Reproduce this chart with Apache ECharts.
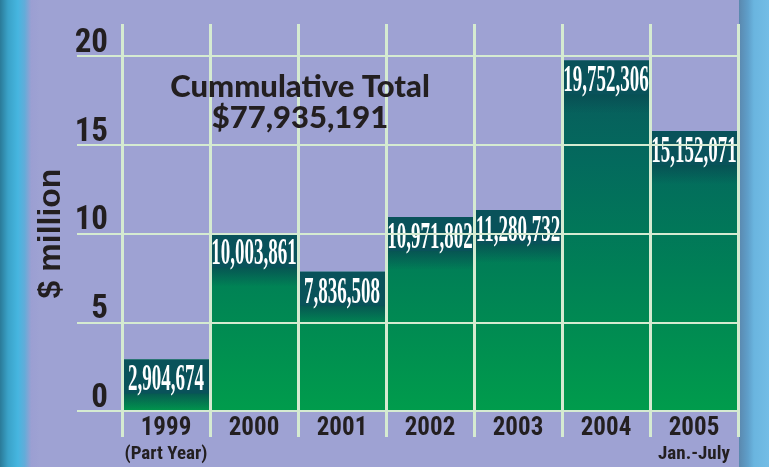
<!DOCTYPE html>
<html>
<head>
<meta charset="utf-8">
<script src="https://cdn.jsdelivr.net/npm/echarts@6/dist/echarts.min.js"></script>
<style>
html,body{margin:0;padding:0;background:#9ea2d3;}
#chart{width:769px;height:467px;}
</style>
</head>
<body>
<div id="chart"></div>
<script>
// Data
var years = ['1999', '2000', '2001', '2002', '2003', '2004', '2005'];
var yearNotes = ['(Part Year)', '', '', '', '', '', 'Jan.-July'];
var barValues = [2.90, 10.00, 7.84, 10.93, 11.33, 19.75, 15.77]; // $ million, bar heights as drawn
var valueLabels = ['2,904,674', '10,003,861', '7,836,508', '10,971,802', '11,280,732', '19,752,306', '15,152,071'];
var yTicks = [0, 5, 10, 15, 20];
var titleLines = ['Cummulative Total', '$77,935,191'];
var yName = '$ million';

var chart = echarts.init(document.getElementById('chart'), null, {renderer: 'canvas'});

var ink = '#231f20';
var gridLine = '#d5ebd1';
var narrow = '"Liberation Sans Narrow", "Roboto Condensed", "DejaVu Sans Condensed", "Liberation Sans", sans-serif';

var rich = {
  y: {fontFamily: narrow, fontWeight: 'bold', fontSize: 25, color: ink, lineHeight: 26},
  s: {fontFamily: narrow, fontWeight: 'bold', fontSize: 19, color: ink, lineHeight: 24}
};

var option = {
  backgroundColor: '#9ea2d3',
  animation: false,
  graphic: [
    {type: 'rect', z: -1, shape: {x: 0, y: 0, width: 40, height: 467},
      style: {fill: new echarts.graphic.LinearGradient(0, 0, 1, 0, [
        {offset: 0, color: '#2a7a98'}, {offset: 0.2, color: '#3aa2c8'}, {offset: 0.45, color: '#46b6e0'},
        {offset: 0.62, color: '#63acd9'}, {offset: 0.78, color: '#9b9fd2'}, {offset: 1, color: '#9ea2d3'}])}},
    {type: 'rect', z: -1, shape: {x: 739, y: 0, width: 30, height: 467},
      style: {fill: new echarts.graphic.LinearGradient(0, 0, 1, 0, [
        {offset: 0, color: '#5a88ae'}, {offset: 0.3, color: '#5f9fca'}, {offset: 0.5, color: '#6ab5df'},
        {offset: 1, color: '#73bde6'}])}}
  ],
  title: {
    text: titleLines.join('\n'), z: 20,
    left: 295, top: 66, textAlign: 'center',
    textStyle: {fontFamily: 'Lato, "Open Sans", sans-serif', fontWeight: 900, fontSize: 31, color: ink, lineHeight: 31}
  },
  grid: [
    {left: 122, right: 31, top: 56, bottom: 56},
    {left: 122, right: 31, top: 24, bottom: 30},
    {left: 77, right: 31, top: 56, bottom: 56}
  ],
  xAxis: [
    {type: 'category', gridIndex: 0, data: years, boundaryGap: true,
      axisLine: {show: false}, axisTick: {show: false}, splitLine: {show: false},
      axisLabel: {margin: 5, interval: 0,
        formatter: function (v, i) { return '{y|' + v + '}' + (yearNotes[i] ? '\n{s|' + yearNotes[i] + '}' : ''); },
        rich: rich}},
    {type: 'category', gridIndex: 1, data: years, boundaryGap: true, z: 10,
      axisLine: {show: false}, axisTick: {show: false}, axisLabel: {show: false},
      splitLine: {show: true, lineStyle: {color: gridLine, width: 3}}},
    {type: 'value', gridIndex: 2, show: false}
  ],
  yAxis: [
    {type: 'value', gridIndex: 0, min: 0, max: 20, interval: 5,
      axisLine: {show: false}, axisTick: {show: false}, splitLine: {show: false},
      axisLabel: {margin: 14, verticalAlign: 'bottom', fontFamily: narrow, fontWeight: 'bold', fontSize: 33,
        color: ink, lineHeight: 25, formatter: function (v) { return yTicks.indexOf(v) >= 0 ? String(v) : ''; }},
      name: yName, nameLocation: 'middle', nameRotate: 90, nameGap: 55, nameMoveOverlap: false,
      nameTextStyle: {fontFamily: '"Liberation Sans", Arial, sans-serif', fontWeight: 'bold', fontSize: 32, color: ink}},
    {type: 'value', gridIndex: 1, show: false, min: 0, max: 1},
    {type: 'value', gridIndex: 2, min: 0, max: 20, interval: 5, z: 10,
      axisLine: {show: false}, axisTick: {show: false}, axisLabel: {show: false},
      splitLine: {show: true, lineStyle: {color: gridLine, width: 2}}}
  ],
  series: [
    {type: 'bar', xAxisIndex: 0, yAxisIndex: 0, data: barValues, barCategoryGap: '0%', z: 2,
      itemStyle: {color: new echarts.graphic.LinearGradient(0, 56, 0, 411, [
        {offset: 0, color: '#0a585c'}, {offset: 0.3, color: '#036a5d'}, {offset: 0.6, color: '#007f56'},
        {offset: 1, color: '#009c4c'}], true)}},
    {type: 'custom', xAxisIndex: 0, yAxisIndex: 0, z: 4,
      data: barValues.map(function (v, i) { return [i, v]; }),
      renderItem: function (params, api) {
        var idx = params.dataIndex;
        var p = api.coord([api.value(0), api.value(1)]);
        var w = api.size([1, 0])[0];
        var x0 = p[0] - w / 2;
        return {type: 'group', children: [
          {type: 'rect', shape: {x: x0, y: p[1] + 33, width: w, height: 20},
            style: {fill: new echarts.graphic.LinearGradient(0, 0, 0, 1, [
              {offset: 0, color: 'rgba(8,76,82,0.85)'}, {offset: 1, color: 'rgba(8,76,82,0)'}])}},
          {type: 'rect', shape: {x: x0, y: p[1], width: w, height: 34}, style: {fill: '#09525a'}},
          {type: 'text', x: p[0], y: p[1] + 2, scaleX: 0.5, scaleY: 1,
            style: {text: valueLabels[idx], fill: '#ffffff', align: 'center', verticalAlign: 'top',
              font: 'bold 38px "Liberation Serif", "DejaVu Serif", serif',
              shadowColor: 'rgba(0,20,20,0.8)', shadowBlur: 4, shadowOffsetX: 2, shadowOffsetY: 2}}
        ]};
      }}
  ]
};
chart.setOption(option);
</script>
</body>
</html>
